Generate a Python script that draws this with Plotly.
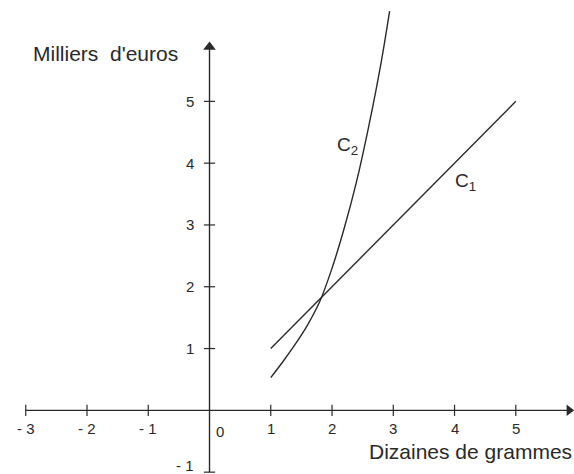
import plotly.graph_objects as go

# ---- data ----
x_ticks = [-3, -2, -1, 1, 2, 3, 4, 5]
x_tick_labels = ["- 3", "- 2", "- 1", "1", "2", "3", "4", "5"]
y_ticks = [-1, 1, 2, 3, 4, 5]
y_tick_labels = ["- 1", "1", "2", "3", "4", "5"]

c1_x = [1, 5]
c1_y = [1, 5]

c2_x = [1.0, 1.2, 1.4, 1.6, 1.8, 2.0, 2.2, 2.4, 2.6, 2.8, 2.94]
c2_y = [0.53, 0.79, 1.07, 1.38, 1.76, 2.3, 2.95, 3.7, 4.6, 5.62, 6.46]

x_axis_span = [-3, 5.95]
y_axis_span = [-1, 5.98]

INK = "#2a2a2a"
FONT = "Arial, 'Liberation Sans', sans-serif"

fig = go.Figure()

# axes lines
fig.add_trace(go.Scatter(x=[x_axis_span[0], x_axis_span[1] - 0.08], y=[0, 0],
                         mode="lines", line=dict(color=INK, width=1.4),
                         hoverinfo="skip"))
fig.add_trace(go.Scatter(x=[0, 0], y=[y_axis_span[0], y_axis_span[1] - 0.1],
                         mode="lines", line=dict(color=INK, width=1.4),
                         hoverinfo="skip"))
# arrow heads
fig.add_trace(go.Scatter(x=[x_axis_span[1] - 0.08], y=[0], mode="markers",
                         marker=dict(symbol="triangle-right", size=10,
                                     color=INK, line=dict(width=0)),
                         hoverinfo="skip"))
fig.add_trace(go.Scatter(x=[0], y=[y_axis_span[1] - 0.1], mode="markers",
                         marker=dict(symbol="triangle-up", size=11,
                                     color=INK, line=dict(width=0)),
                         hoverinfo="skip"))

# curves
fig.add_trace(go.Scatter(x=c1_x, y=c1_y, mode="lines",
                         line=dict(color=INK, width=1.4), hoverinfo="skip"))
fig.add_trace(go.Scatter(x=c2_x, y=c2_y, mode="lines",
                         line=dict(color=INK, width=1.4, shape="spline",
                                   smoothing=1.0),
                         hoverinfo="skip"))

# tick marks
fig.add_trace(go.Scatter(x=x_ticks, y=[0] * len(x_ticks), mode="markers",
                         marker=dict(symbol="line-ns", size=8,
                                     line=dict(color=INK, width=1.2)),
                         hoverinfo="skip"))
fig.add_trace(go.Scatter(x=[0] * len(y_ticks), y=y_ticks, mode="markers",
                         marker=dict(symbol="line-ew", size=8,
                                     line=dict(color=INK, width=1.2)),
                         hoverinfo="skip"))

annotations = []
tick_font = dict(family=FONT, size=15, color=INK)
for xv, lab in zip(x_ticks, x_tick_labels):
    annotations.append(dict(x=xv, y=0, xref="x", yref="y", text=lab,
                            showarrow=False, xanchor="center",
                            yanchor="middle", yshift=-18, font=tick_font))
annotations.append(dict(x=0, y=0, xref="x", yref="y", text="0",
                        showarrow=False, xanchor="center", yanchor="middle",
                        xshift=10, yshift=-21, font=tick_font))
for yv, lab in zip(y_ticks, y_tick_labels):
    annotations.append(dict(x=0, y=yv, xref="x", yref="y", text=lab,
                            showarrow=False, xanchor="right",
                            yanchor="middle", xshift=-14,
                            yshift=7 if yv < 0 else 0, font=tick_font))

title_font = dict(family=FONT, size=21, color=INK)
annotations.append(dict(x=-0.48, y=5.77, xref="x", yref="y",
                        text="Milliers  d'euros", showarrow=False,
                        xanchor="right", yanchor="middle", font=title_font))
annotations.append(dict(x=5.95, y=-0.667, xref="x", yref="y",
                        text="Dizaines de grammes", showarrow=False,
                        xanchor="right", yanchor="middle", font=title_font))

lab_font = dict(family=FONT, size=19, color=INK)
annotations.append(dict(x=2.25, y=4.27, xref="x", yref="y",
                        text="C<sub>2</sub>", showarrow=False,
                        xanchor="center", yanchor="middle", font=lab_font))
annotations.append(dict(x=4.18, y=3.70, xref="x", yref="y",
                        text="C<sub>1</sub>", showarrow=False,
                        xanchor="center", yanchor="middle", font=lab_font))

fig.update_layout(
    width=574, height=474,
    margin=dict(l=0, r=0, t=0, b=0),
    paper_bgcolor="white", plot_bgcolor="white",
    showlegend=False,
    xaxis=dict(range=[-3.42, 5.95], visible=False, fixedrange=True),
    yaxis=dict(range=[-1.03, 6.64], visible=False, fixedrange=True),
    annotations=annotations,
)

fig.write_html("out.html", config={"displayModeBar": False},
               post_script="document.body.style.margin='0';")
